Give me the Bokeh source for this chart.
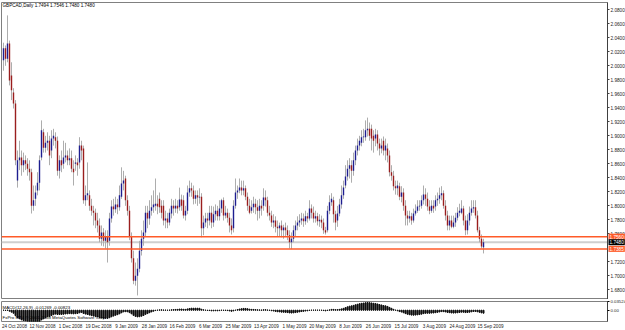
import pandas as pd
from bokeh.plotting import figure
from bokeh.layouts import column
from bokeh.models import Range1d, Label, Span, ColumnDataSource, FixedTicker
from bokeh.embed import file_html
from bokeh.resources import INLINE

chart_title = "GBPCAD,Daily  1.7494 1.7546 1.7480 1.7480"
macd_title = "MACD(12,26,9) -0.01269 -0.00823"
copyright_text = "FxPro MT4 \u00a9 2001-2008 MetaQuotes Software Corp."

opens = [
    2.008, 2.025, 2.010, 2.032, 1.986, 1.962, 1.946, 1.836, 1.865, 1.869,
    1.858, 1.865, 1.860, 1.853, 1.848, 1.800, 1.810, 1.822, 1.833, 1.869,
    1.905, 1.883, 1.890, 1.893, 1.879, 1.896, 1.898, 1.893, 1.850, 1.865,
    1.860, 1.869, 1.872, 1.865, 1.868, 1.853, 1.860, 1.862, 1.862, 1.886,
    1.882, 1.808, 1.815, 1.815, 1.800, 1.793, 1.790, 1.779, 1.772, 1.753,
    1.762, 1.750, 1.756, 1.750, 1.782, 1.799, 1.795, 1.802, 1.798, 1.813,
    1.832, 1.839, 1.808, 1.793, 1.756, 1.725, 1.693, 1.700, 1.710, 1.736,
    1.753, 1.762, 1.790, 1.782, 1.793, 1.798, 1.800, 1.803, 1.810, 1.800,
    1.800, 1.779, 1.782, 1.776, 1.789, 1.800, 1.796, 1.800, 1.798, 1.809,
    1.808, 1.786, 1.793, 1.819, 1.825, 1.822, 1.810, 1.815, 1.812, 1.813,
    1.768, 1.776, 1.782, 1.779, 1.790, 1.776, 1.788, 1.793, 1.785, 1.796,
    1.808, 1.786, 1.790, 1.783, 1.772, 1.768, 1.800, 1.819, 1.822, 1.826,
    1.822, 1.825, 1.813, 1.800, 1.793, 1.798, 1.803, 1.798, 1.793, 1.800,
    1.800, 1.812, 1.808, 1.790, 1.786, 1.776, 1.779, 1.770, 1.768, 1.772,
    1.765, 1.769, 1.765, 1.758, 1.748, 1.753, 1.765, 1.772, 1.776, 1.779,
    1.782, 1.778, 1.785, 1.782, 1.796, 1.790, 1.782, 1.785, 1.778, 1.780,
    1.776, 1.765, 1.765, 1.793, 1.805, 1.808, 1.788, 1.779, 1.789, 1.802,
    1.815, 1.829, 1.842, 1.853, 1.858, 1.850, 1.865, 1.879, 1.886, 1.890,
    1.898, 1.898, 1.908, 1.910, 1.910, 1.900, 1.896, 1.902, 1.889, 1.882,
    1.893, 1.879, 1.882, 1.872, 1.848, 1.843, 1.828, 1.825, 1.828, 1.813,
    1.819, 1.800, 1.786, 1.782, 1.785, 1.779, 1.789, 1.793, 1.799, 1.800,
    1.808, 1.816, 1.810, 1.799, 1.793, 1.800, 1.799, 1.808, 1.810, 1.815,
    1.818, 1.800, 1.786, 1.772, 1.779, 1.770, 1.776, 1.783, 1.790, 1.790,
    1.796, 1.779, 1.765, 1.779, 1.790, 1.796, 1.798, 1.786, 1.765, 1.753,
    1.741,
]
highs = [
    2.033, 2.029, 2.072, 2.036, 2.005, 1.968, 1.951, 1.879, 1.893, 1.879,
    1.876, 1.872, 1.868, 1.865, 1.853, 1.829, 1.829, 1.848, 1.872, 1.922,
    1.910, 1.900, 1.905, 1.900, 1.908, 1.910, 1.905, 1.899, 1.872, 1.879,
    1.893, 1.890, 1.879, 1.882, 1.879, 1.865, 1.872, 1.868, 1.898, 1.893,
    1.886, 1.829, 1.862, 1.822, 1.810, 1.800, 1.796, 1.790, 1.782, 1.772,
    1.768, 1.765, 1.765, 1.790, 1.808, 1.810, 1.813, 1.810, 1.829, 1.855,
    1.850, 1.843, 1.815, 1.800, 1.762, 1.736, 1.719, 1.725, 1.750, 1.765,
    1.779, 1.800, 1.800, 1.808, 1.815, 1.822, 1.839, 1.815, 1.819, 1.808,
    1.808, 1.793, 1.790, 1.796, 1.810, 1.808, 1.810, 1.808, 1.826, 1.816,
    1.815, 1.800, 1.829, 1.836, 1.833, 1.829, 1.822, 1.822, 1.825, 1.818,
    1.786, 1.790, 1.790, 1.800, 1.800, 1.799, 1.802, 1.800, 1.808, 1.810,
    1.812, 1.800, 1.796, 1.790, 1.782, 1.808, 1.839, 1.829, 1.839, 1.836,
    1.836, 1.829, 1.819, 1.810, 1.808, 1.813, 1.810, 1.808, 1.810, 1.808,
    1.825, 1.822, 1.813, 1.800, 1.793, 1.788, 1.785, 1.779, 1.776, 1.779,
    1.773, 1.776, 1.772, 1.765, 1.762, 1.772, 1.779, 1.785, 1.788, 1.790,
    1.789, 1.793, 1.790, 1.808, 1.802, 1.799, 1.793, 1.790, 1.788, 1.786,
    1.782, 1.770, 1.800, 1.815, 1.818, 1.813, 1.793, 1.800, 1.810, 1.829,
    1.836, 1.858, 1.865, 1.868, 1.865, 1.876, 1.886, 1.896, 1.900, 1.908,
    1.910, 1.922, 1.926, 1.919, 1.916, 1.908, 1.910, 1.908, 1.896, 1.896,
    1.899, 1.896, 1.889, 1.879, 1.858, 1.850, 1.836, 1.836, 1.833, 1.828,
    1.825, 1.808, 1.793, 1.793, 1.790, 1.796, 1.802, 1.808, 1.808, 1.815,
    1.829, 1.825, 1.819, 1.808, 1.808, 1.808, 1.815, 1.819, 1.826, 1.828,
    1.822, 1.808, 1.793, 1.786, 1.786, 1.786, 1.790, 1.798, 1.803, 1.808,
    1.800, 1.786, 1.788, 1.799, 1.808, 1.808, 1.808, 1.793, 1.770, 1.759,
    1.753,
]
lows = [
    1.993, 2.000, 2.005, 1.972, 1.951, 1.939, 1.858, 1.826, 1.851, 1.843,
    1.848, 1.851, 1.843, 1.836, 1.789, 1.793, 1.800, 1.815, 1.822, 1.865,
    1.876, 1.876, 1.879, 1.858, 1.868, 1.886, 1.882, 1.843, 1.839, 1.848,
    1.853, 1.862, 1.858, 1.858, 1.848, 1.829, 1.850, 1.843, 1.853, 1.865,
    1.803, 1.800, 1.808, 1.793, 1.786, 1.772, 1.768, 1.762, 1.748, 1.743,
    1.742, 1.739, 1.719, 1.743, 1.776, 1.786, 1.790, 1.788, 1.793, 1.810,
    1.822, 1.800, 1.786, 1.751, 1.719, 1.688, 1.686, 1.672, 1.705, 1.729,
    1.743, 1.756, 1.768, 1.773, 1.786, 1.790, 1.793, 1.788, 1.790, 1.782,
    1.772, 1.768, 1.768, 1.772, 1.782, 1.786, 1.790, 1.789, 1.793, 1.793,
    1.782, 1.779, 1.788, 1.813, 1.813, 1.802, 1.803, 1.800, 1.803, 1.755,
    1.758, 1.770, 1.768, 1.772, 1.768, 1.770, 1.779, 1.779, 1.779, 1.790,
    1.779, 1.782, 1.776, 1.762, 1.759, 1.762, 1.796, 1.810, 1.818, 1.815,
    1.815, 1.808, 1.793, 1.788, 1.789, 1.790, 1.788, 1.779, 1.782, 1.786,
    1.793, 1.799, 1.785, 1.779, 1.770, 1.768, 1.762, 1.756, 1.756, 1.755,
    1.753, 1.756, 1.751, 1.739, 1.738, 1.748, 1.756, 1.765, 1.770, 1.773,
    1.770, 1.773, 1.776, 1.779, 1.782, 1.776, 1.776, 1.772, 1.770, 1.768,
    1.760, 1.759, 1.762, 1.788, 1.800, 1.776, 1.765, 1.770, 1.785, 1.796,
    1.810, 1.825, 1.836, 1.839, 1.833, 1.843, 1.858, 1.872, 1.879, 1.885,
    1.890, 1.893, 1.899, 1.893, 1.879, 1.876, 1.885, 1.879, 1.872, 1.875,
    1.872, 1.865, 1.862, 1.842, 1.836, 1.822, 1.816, 1.815, 1.808, 1.805,
    1.793, 1.772, 1.772, 1.776, 1.773, 1.776, 1.786, 1.790, 1.793, 1.796,
    1.802, 1.800, 1.793, 1.788, 1.790, 1.790, 1.793, 1.800, 1.803, 1.808,
    1.796, 1.779, 1.765, 1.765, 1.768, 1.768, 1.770, 1.779, 1.785, 1.788,
    1.772, 1.758, 1.759, 1.772, 1.786, 1.790, 1.782, 1.762, 1.748, 1.739,
    1.732,
]
closes = [
    2.025, 2.010, 2.032, 1.979, 1.965, 1.946, 1.865, 1.865, 1.869, 1.858,
    1.865, 1.860, 1.853, 1.848, 1.800, 1.808, 1.819, 1.833, 1.865, 1.908,
    1.883, 1.890, 1.893, 1.872, 1.896, 1.900, 1.893, 1.850, 1.865, 1.858,
    1.869, 1.872, 1.865, 1.868, 1.853, 1.848, 1.862, 1.858, 1.886, 1.879,
    1.808, 1.815, 1.818, 1.800, 1.793, 1.790, 1.779, 1.772, 1.753, 1.762,
    1.750, 1.756, 1.748, 1.782, 1.799, 1.795, 1.802, 1.798, 1.815, 1.832,
    1.836, 1.808, 1.793, 1.756, 1.725, 1.693, 1.700, 1.710, 1.736, 1.753,
    1.762, 1.790, 1.782, 1.793, 1.798, 1.802, 1.803, 1.799, 1.798, 1.790,
    1.779, 1.782, 1.776, 1.790, 1.800, 1.796, 1.800, 1.796, 1.809, 1.800,
    1.786, 1.793, 1.819, 1.825, 1.822, 1.810, 1.815, 1.812, 1.813, 1.768,
    1.776, 1.782, 1.779, 1.790, 1.776, 1.788, 1.793, 1.785, 1.796, 1.808,
    1.786, 1.790, 1.783, 1.772, 1.765, 1.800, 1.819, 1.822, 1.826, 1.822,
    1.825, 1.813, 1.800, 1.790, 1.798, 1.803, 1.798, 1.793, 1.800, 1.796,
    1.812, 1.808, 1.790, 1.786, 1.776, 1.779, 1.770, 1.768, 1.772, 1.765,
    1.769, 1.765, 1.758, 1.748, 1.753, 1.765, 1.772, 1.776, 1.779, 1.782,
    1.778, 1.785, 1.782, 1.796, 1.790, 1.782, 1.785, 1.778, 1.780, 1.776,
    1.765, 1.762, 1.793, 1.805, 1.810, 1.788, 1.776, 1.789, 1.802, 1.815,
    1.826, 1.842, 1.853, 1.858, 1.850, 1.865, 1.879, 1.886, 1.893, 1.898,
    1.899, 1.908, 1.910, 1.900, 1.896, 1.893, 1.902, 1.889, 1.882, 1.886,
    1.879, 1.886, 1.872, 1.848, 1.843, 1.828, 1.825, 1.829, 1.813, 1.819,
    1.800, 1.786, 1.782, 1.785, 1.779, 1.789, 1.793, 1.799, 1.800, 1.808,
    1.816, 1.810, 1.799, 1.793, 1.800, 1.796, 1.808, 1.810, 1.815, 1.818,
    1.800, 1.786, 1.772, 1.779, 1.770, 1.776, 1.783, 1.790, 1.793, 1.796,
    1.779, 1.765, 1.779, 1.790, 1.796, 1.798, 1.786, 1.765, 1.753, 1.742,
    1.748,
]

date_labels = [
    "24 Oct 2008", "12 Nov 2008", "1 Dec 2008", "19 Dec 2008", "9 Jan 2009",
    "28 Jan 2009", "16 Feb 2009", "6 Mar 2009", "25 Mar 2009", "13 Apr 2009",
    "1 May 2009", "20 May 2009", "8 Jun 2009", "26 Jun 2009", "15 Jul 2009",
    "3 Aug 2009", "24 Aug 2009", "15 Sep 2009",
]
date_label_bars = [0, 14, 28, 42, 56, 70, 84, 98, 112, 126, 140, 154, 168, 182, 196, 210, 224, 238]

price_ticks = [2.08, 2.06, 2.04, 2.02, 2.00, 1.98, 1.96, 1.94, 1.92, 1.90, 1.88, 1.86,
               1.84, 1.82, 1.80, 1.78, 1.76, 1.72, 1.70, 1.68]
level_upper = 1.7560
level_lower = 1.7385
bid_price = 1.7480
macd_ticks = [0.03524, 0.0, -0.04581]

FONT = "Liberation Sans"
UP = "#1e1e90"
DOWN = "#9a1e1e"
WICK = "#adadad"
ORANGE = "#ff5a28"

n = len(closes)
idx = list(range(n))
src = ColumnDataSource(dict(
    x=idx,
    high=highs,
    low=lows,
    top=[max(o, c) for o, c in zip(opens, closes)],
    bottom=[min(o, c) for o, c in zip(opens, closes)],
    color=[UP if c >= o else DOWN for o, c in zip(opens, closes)],
))

x_range = Range1d(-1, 302)

p = figure(frame_width=606, frame_height=297, min_border_left=1, min_border_top=2,
           min_border_bottom=0, min_border_right=0,
           x_range=x_range, y_range=Range1d(1.6662, 2.0904),
           toolbar_location=None, output_backend="svg",
           x_axis_location=None, y_axis_location="right")
p.xgrid.visible = False
p.ygrid.visible = False
p.outline_line_color = "#808080"
p.background_fill_color = "white"
p.border_fill_color = "white"

yax = p.yaxis[0]
yax.ticker = FixedTicker(ticks=price_ticks)
yax.major_label_overrides = {t: f"{t:.4f}" for t in price_ticks}
yax.major_label_text_font = FONT
yax.major_label_text_font_size = "4.7px"
yax.major_label_text_color = "#222222"
yax.major_tick_out = 2
yax.major_tick_in = 0
yax.minor_tick_out = 0
yax.minor_tick_in = 0
yax.major_label_standoff = 1
yax.axis_line_color = "#404040"
yax.major_tick_line_color = "#404040"

p.add_layout(Span(location=bid_price, dimension="width", line_color="#cfcfcf",
                  line_width=2, level="underlay"))

p.segment(x0="x", y0="low", x1="x", y1="high", source=src, color=WICK, line_width=1)
p.vbar(x="x", top="top", bottom="bottom", width=0.7, source=src,
       fill_color="color", line_color=None)

for lvl in (level_upper, level_lower):
    p.add_layout(Span(location=lvl, dimension="width", line_color=ORANGE, line_width=1.5))

for val, bg in ((level_upper, ORANGE), (bid_price, "black"), (level_lower, ORANGE)):
    p.add_layout(Label(x=302, y=val, x_offset=1, text=f"{val:.4f}", text_font=FONT,
                       text_font_size="4.7px", text_color="white", text_align="left",
                       text_baseline="middle", background_fill_color=bg, padding=1),
                 "right")

p.add_layout(Label(x=-0.5, y=2.086, text=chart_title, text_font=FONT,
                   text_font_size="4.6px", text_color="black", text_align="left",
                   text_baseline="middle"))

# MACD sub-window
cs = pd.Series(closes)
macd = (cs.ewm(span=12, adjust=False).mean() - cs.ewm(span=26, adjust=False).mean()).tolist()

p2 = figure(frame_width=606, frame_height=20, min_border_left=1, min_border_top=2,
            min_border_bottom=0, min_border_right=0,
            x_range=x_range, y_range=Range1d(-0.0458, 0.0353),
            toolbar_location=None, output_backend="svg", y_axis_location="right")
p2.xgrid.visible = False
p2.ygrid.visible = False
p2.outline_line_color = "#808080"
p2.vbar(x=idx, top=macd, bottom=0, width=0.5, color="#111111")

y2 = p2.yaxis[0]
y2.ticker = FixedTicker(ticks=macd_ticks)
y2.major_label_overrides = {0.03524: "0.03524", 0.0: "0.00", -0.04581: "-0.04581"}
y2.major_label_text_font = FONT
y2.major_label_text_font_size = "4.3px"
y2.major_label_text_color = "#222222"
y2.major_tick_out = 2
y2.major_tick_in = 0
y2.minor_tick_out = 0
y2.minor_tick_in = 0
y2.major_label_standoff = 1
y2.axis_line_color = "#404040"

x2 = p2.xaxis[0]
x2.ticker = FixedTicker(ticks=[b + 5.5 for b in date_label_bars])
x2.major_label_overrides = {b + 5.5: lab for b, lab in zip(date_label_bars, date_labels)}
x2.major_label_text_font = FONT
x2.major_label_text_font_size = "4.6px"
x2.major_label_text_color = "#222222"
x2.major_tick_out = 0
x2.major_tick_in = 0
x2.minor_tick_out = 0
x2.minor_tick_in = 0
x2.major_label_standoff = 2
x2.axis_line_color = None

p2.add_layout(Label(x=-0.5, y=0.012, text=macd_title, text_font=FONT,
                    text_font_size="4.4px", text_color="black", text_align="left",
                    text_baseline="middle"))
p2.add_layout(Label(x=-0.5, y=-0.030, text=copyright_text, text_font=FONT,
                    text_font_size="4.4px", text_color="black", text_align="left",
                    text_baseline="middle"))

layout = column(p, p2, spacing=0)
open("out.html", "w").write(file_html(layout, INLINE))
